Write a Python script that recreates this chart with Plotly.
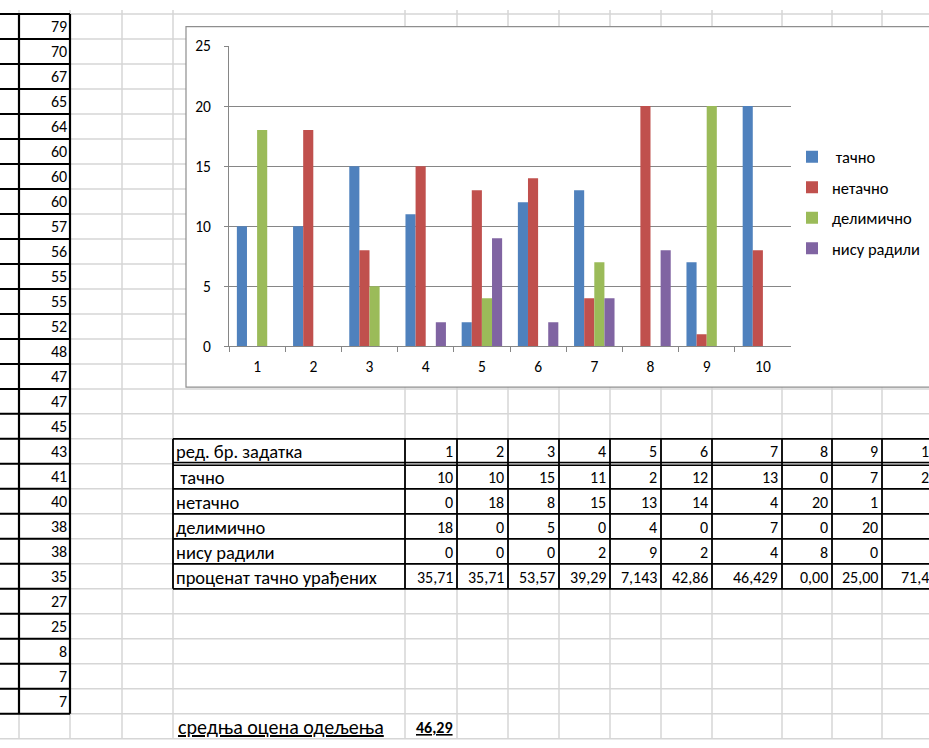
import plotly.graph_objects as go

# ---------------- data ----------------
tasks = ["1", "2", "3", "4", "5", "6", "7", "8", "9", "10"]
tacno = [10, 10, 15, 11, 2, 12, 13, 0, 7, 20]
netacno = [0, 18, 8, 15, 13, 14, 4, 20, 1, 8]
delimicno = [18, 0, 5, 0, 4, 0, 7, 0, 20, 0]
nisu_radili = [0, 0, 0, 2, 9, 2, 4, 8, 0, 0]
procenat = ["35,71", "35,71", "53,57", "39,29", "7,143", "42,86", "46,429", "0,00", "25,00", "71,43"]
ocene = [79, 70, 67, 65, 64, 60, 60, 60, 57, 56, 55, 55, 52, 48, 47, 47, 45, 43,
         41, 40, 38, 38, 35, 27, 25, 8, 7, 7]
series_names = ["\u00a0тачно", "нетачно", "делимично", "нису радили"]
row_labels = ["ред. бр. задатка", "\u00a0тачно", "нетачно", "делимично", "нису радили",
              "проценат тачно урађених"]
avg_label = "средња оцена одељења"
avg_value = "46,29"
colors = ["#4F81BD", "#C0504D", "#9BBB59", "#8064A2"]

# ---------------- geometry helpers ----------------
W, H = 929, 748
FONT = "Carlito, Calibri, Lato, 'Liberation Sans', sans-serif"
NUM = 16
LABEL = 18.5
CHART = 15.5


def X(p):
    return p / W


def Y(p):
    return 1 - p / H


def row(k):
    return 4 + 25.65 * k


grid_cols = [19, 70, 122, 173, 405, 457, 508, 559, 610, 661, 712, 782, 832, 882]
table_cols = [173, 405, 457, 508, 559, 610, 661, 712, 782, 832, 882, 941]

shapes = []


def line(x0, y0, x1, y1, color, width):
    shapes.append(dict(type="line", xref="paper", yref="paper",
                       x0=X(x0), y0=Y(y0), x1=X(x1), y1=Y(y1),
                       line=dict(color=color, width=width), layer="below"))


GRAY = "#D6D6D6"
for gx in grid_cols:
    line(gx, 0, gx, H, GRAY, 1.5)
for k in range(0, 30):
    line(0, row(k), W, row(k), GRAY, 1.5)

# chart box
shapes.append(dict(type="rect", xref="paper", yref="paper",
                   x0=X(186), y0=Y(387), x1=X(945), y1=Y(17),
                   fillcolor="white", line=dict(color="#8E8E8E", width=1.2), layer="below"))

# left column bold borders
for k in range(0, 29):
    line(0, row(k), 70, row(k), "black", 2)
line(19, row(0), 19, row(28), "black", 2.2)
line(70, row(0), 70, row(28), "black", 2.2)

# table borders
for k in range(17, 24):
    if k == 18:
        line(173, row(18) - 1.5, 945, row(18) - 1.5, "black", 1.5)
        line(173, row(18) + 1.5, 945, row(18) + 1.5, "black", 1.5)
    else:
        line(173, row(k), 945, row(k), "black", 1.8)
for cx in table_cols:
    line(cx, row(17), cx, row(23), "black", 1.8)

annotations = []


def text(x, y, s, anchor="right", size=NUM):
    annotations.append(dict(xref="paper", yref="paper", x=X(x), y=Y(y), text=s,
                            showarrow=False, xanchor=anchor, yanchor="middle",
                            font=dict(family=FONT, size=size, color="black")))


# left column values
for k, v in enumerate(ocene):
    text(69, row(k) + 13, str(v))

# table text
table_rows = [tasks, [str(v) for v in tacno], [str(v) for v in netacno],
              [str(v) for v in delimicno], [str(v) for v in nisu_radili], procenat]
for r, (lab, vals) in enumerate(zip(row_labels, table_rows)):
    k = 17 + r
    yc = row(k) + 13 + (1 if k >= 18 else 0)
    text(174, yc, lab, anchor="left", size=LABEL)
    for c, v in enumerate(vals):
        text(table_cols[c + 2] - 2, yc, v)

# bottom row
text(176, row(28) + 14,
     "<span style='text-decoration:underline'>" + avg_label + "</span>", anchor="left", size=20)
text(414, row(28) + 14,
     "<b><span style='text-decoration:underline'>" + avg_value + "</span></b>", anchor="left",
     size=16)

# ---------------- chart ----------------
fig = go.Figure()
for name, vals, col in zip(series_names, [tacno, netacno, delimicno, nisu_radili], colors):
    fig.add_trace(go.Bar(x=tasks, y=vals, name=name, marker=dict(color=col, line=dict(width=0)),
                         legendgroup=name))

fig.update_layout(
    width=W, height=H, autosize=False,
    margin=dict(l=0, r=0, t=0, b=0),
    paper_bgcolor="white", plot_bgcolor="rgba(0,0,0,0)",
    barmode="group", bargap=0.28, bargroupgap=0,
    shapes=shapes, annotations=annotations,
    font=dict(family=FONT, size=CHART, color="black"),
    legend=dict(x=X(792), y=Y(133), xanchor="left", yanchor="top",
                bgcolor="rgba(0,0,0,0)", tracegroupgap=6, itemwidth=30,
                font=dict(family=FONT, size=16.5, color="black")),
    xaxis=dict(domain=[X(229), X(791)], type="category", showline=True, linecolor="#868686",
               linewidth=1, ticks="outside", tickson="boundaries", ticklen=5, tickcolor="#868686",
               showgrid=False, tickfont=dict(size=CHART), ticklabelstandoff=6),
    yaxis=dict(domain=[Y(345), Y(37)], range=[0, 25], dtick=5, showline=True,
               linecolor="#868686", ticks="outside", ticklen=4, tickcolor="#868686",
               gridcolor="#868686", gridwidth=1, zeroline=False, tickfont=dict(size=CHART),
               ticklabelstandoff=10),
)

fig.write_html("out.html", config={"displayModeBar": False},
               post_script="document.body.style.margin='0';"
                           "document.documentElement.style.overflow='hidden';")
